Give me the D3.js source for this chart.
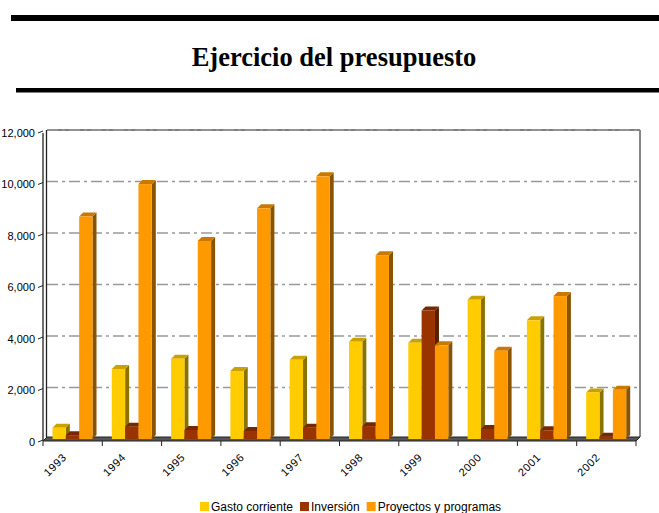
<!DOCTYPE html>
<html>
<head>
<meta charset="UTF-8">
<title>Ejercicio del presupuesto</title>
<script src="https://d3js.org/d3.v7.min.js"></script>
<style>
  body { margin: 0; background: #fff; }
  svg { display: block; }
  .grid line { stroke: #999; stroke-width: 1.3px; stroke-dasharray: 11,4,3,4; }
  .ylab, .xlab { font-family: "Liberation Sans", Arial, sans-serif; font-size: 11px; fill: #000; }
  .xlab { letter-spacing: 0.6px; }
  .leg { font-family: "Liberation Sans", Arial, sans-serif; font-size: 12px; fill: #000; }
</style>
</head>
<body>
<svg width="659" height="513"></svg>
<script>
// data
var years = ["1993","1994","1995","1996","1997","1998","1999","2000","2001","2002"];
var seriesNames = ["Gasto corriente", "Inversión", "Proyectos y programas"];
var gastoCorriente = [440, 2720, 3120, 2640, 3080, 3780, 3740, 5410, 4610, 1810];
var inversion = [150, 480, 350, 310, 440, 500, 4990, 390, 340, 90];
var proyectos = [8640, 9900, 7690, 8960, 10200, 7140, 3640, 3430, 5550, 1910];
var yTicks = [0, 2000, 4000, 6000, 8000, 10000, 12000];

var colors = [
  {front: "#FFCC00", side: "#8A7200", top: "#C9A100"},
  {front: "#993300", side: "#5A1E00", top: "#782800"},
  {front: "#FF9900", side: "#8A5300", top: "#C97800"}
];

var svg = d3.select("svg");
var depth = {x: 4, y: 4};

// header rules and title
svg.append("rect").attr("x", 11).attr("y", 15).attr("width", 648).attr("height", 6).attr("fill", "#000");
svg.append("rect").attr("x", 16).attr("y", 88).attr("width", 643).attr("height", 4.5).attr("fill", "#000");
svg.append("text")
  .attr("x", 334).attr("y", 66)
  .attr("text-anchor", "middle")
  .style("font-family", "'Liberation Serif', 'Times New Roman', serif")
  .style("font-weight", "bold")
  .style("font-size", "26.5px")
  .text("Ejercicio del presupuesto");

var x0 = d3.scaleBand().domain(years).range([43, 636]);
var x1 = d3.scaleBand().domain(seriesNames).range([9.5, 49.5]);
var y = d3.scaleLinear().domain([0, 12000]).range([439, 130]);

// back wall: top edge and right edge
svg.append("line").attr("x1", 47).attr("x2", 640).attr("y1", y(12000)).attr("y2", y(12000))
  .attr("stroke", "#555").attr("stroke-width", 1.5);
svg.append("line").attr("x1", 640).attr("x2", 640).attr("y1", y(12000)).attr("y2", 437)
  .attr("stroke", "#888").attr("stroke-width", 2);

// grid lines
svg.append("g").attr("class", "grid")
  .selectAll("line").data(yTicks.filter(function(d){ return d > 0; })).enter()
  .append("line")
  .attr("x1", 47).attr("x2", 639)
  .attr("y1", function(d){ return y(d); })
  .attr("y2", function(d){ return y(d); });

// left wall (double line)
svg.append("line").attr("x1", 43).attr("x2", 43).attr("y1", y(12000) + 3).attr("y2", 441)
  .attr("stroke", "#222").attr("stroke-width", 1.3);
svg.append("line").attr("x1", 46.5).attr("x2", 46.5).attr("y1", y(12000)).attr("y2", 437)
  .attr("stroke", "#222").attr("stroke-width", 1.3);

// floor
svg.append("path")
  .attr("d", "M43,441 L636,441 L640,437 L47,437 Z")
  .attr("fill", "#555").attr("stroke", "#222").attr("stroke-width", 1);

// y axis ticks and labels
var yAx = svg.append("g");
yAx.selectAll("line").data(yTicks).enter().append("line")
  .attr("x1", 38).attr("x2", 43)
  .attr("y1", function(d){ return y(d) + 3; })
  .attr("y2", function(d){ return y(d) + 1; })
  .attr("stroke", "#222");
yAx.selectAll("text").data(yTicks).enter().append("text")
  .attr("class", "ylab")
  .attr("x", 35)
  .attr("y", function(d){ return y(d) + 3; })
  .attr("dy", "0.35em")
  .attr("text-anchor", "end")
  .text(d3.format(","));

// x axis ticks and labels
var xTickPos = years.map(function(d){ return x0(d); }).concat([x0.range()[1]]);
svg.append("g").selectAll("line").data(xTickPos).enter().append("line")
  .attr("x1", function(d){ return d; }).attr("x2", function(d){ return d; })
  .attr("y1", 441).attr("y2", 446)
  .attr("stroke", "#222");
svg.append("g").selectAll("text").data(years).enter().append("text")
  .attr("class", "xlab")
  .attr("text-anchor", "end")
  .attr("transform", function(d){
    return "translate(" + (x0(d) + x0.bandwidth() / 2 - 5.5) + ",458) rotate(-45)";
  })
  .text(function(d){ return d; });

// bars
var table = years.map(function(yr, i){
  return {year: yr, values: [gastoCorriente[i], inversion[i], proyectos[i]]};
});
var bw = x1.bandwidth();
var groups = svg.append("g").selectAll("g").data(table).enter().append("g")
  .attr("transform", function(d){ return "translate(" + x0(d.year) + ",0)"; });

groups.each(function(d){
  var g = d3.select(this);
  d.values.forEach(function(v, k){
    var xl = x1(seriesNames[k]), xr = xl + bw, yt = y(v), yb = y(0);
    var c = colors[k];
    // side face
    g.append("path")
      .attr("d", "M" + xr + "," + yb + " L" + xr + "," + yt +
                 " L" + (xr + depth.x) + "," + (yt - depth.y) +
                 " L" + (xr + depth.x) + "," + (yb - depth.y) + " Z")
      .attr("fill", c.side);
    // top face
    g.append("path")
      .attr("d", "M" + xl + "," + yt + " L" + xr + "," + yt +
                 " L" + (xr + depth.x) + "," + (yt - depth.y) +
                 " L" + (xl + depth.x) + "," + (yt - depth.y) + " Z")
      .attr("fill", c.top);
    // front face
    g.append("rect")
      .attr("x", xl).attr("y", yt)
      .attr("width", bw).attr("height", yb - yt)
      .attr("fill", c.front);
  });
});

// legend
var legend = svg.append("g");
var lx = 0;
seriesNames.forEach(function(name, k){
  var item = legend.append("g").attr("transform", "translate(" + lx + ",0)");
  item.append("rect").attr("x", 0).attr("y", 502).attr("width", 9).attr("height", 9)
    .attr("fill", colors[k].front);
  var t = item.append("text").attr("class", "leg").attr("x", 11).attr("y", 511).text(name);
  lx += 11 + t.node().getComputedTextLength() + 7;
});
lx -= 7;
legend.attr("transform", "translate(" + (350.5 - lx / 2) + ",0)");
</script>
</body>
</html>
